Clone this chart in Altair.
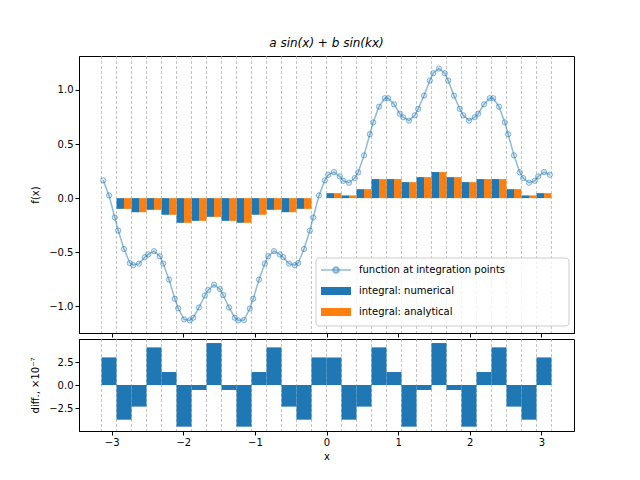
import numpy as np
import pandas as pd
import altair as alt

# 30 bins on [-pi, pi], 3 Gauss points per bin
n_bins = 30
gauss_offsets = [0.1127, 0.5, 0.8873]

# function values at the integration points, bin by bin
f_values = [
    0.164, 0.025, -0.179,
    -0.30, -0.47, -0.60,
    -0.62, -0.605, -0.546,
    -0.52, -0.49, -0.537,
    -0.605, -0.753, -0.93,
    -1.018, -1.12, -1.13,
    -1.105, -1.01, -0.90,
    -0.85, -0.80, -0.84,
    -0.895, -1.01, -1.105,
    -1.13, -1.127, -1.02,
    -0.93, -0.753, -0.605,
    -0.537, -0.49, -0.52,
    -0.546, -0.605, -0.62,
    -0.60, -0.47, -0.30,
    -0.179, 0.025, 0.164,
    0.216, 0.241, 0.20,
    0.16, 0.142, 0.185,
    0.238, 0.395, 0.59,
    0.70, 0.845, 0.923,
    0.923, 0.867, 0.78,
    0.747, 0.716, 0.765,
    0.824, 0.947, 1.086,
    1.154, 1.197, 1.154,
    1.086, 0.947, 0.824,
    0.765, 0.716, 0.747,
    0.78, 0.867, 0.923,
    0.923, 0.845, 0.70,
    0.59, 0.395, 0.238,
    0.185, 0.142, 0.16,
    0.20, 0.241, 0.216,
]

integral_numerical = [
    0.0, -0.099, -0.13, -0.108, -0.154, -0.228, -0.21, -0.173, -0.21, -0.228,
    -0.154, -0.108, -0.13, -0.099, 0.0, 0.046, 0.025, 0.083, 0.176, 0.176,
    0.148, 0.194, 0.241, 0.194, 0.148, 0.176, 0.176, 0.083, 0.025, 0.046,
]
integral_analytical = list(integral_numerical)

# numerical - analytical, in units of 1e-7
diff_values = [
    3.0, -3.77, -2.35, 4.09, 1.41, -4.53, -0.54, 4.56, -0.54, -4.53,
    1.41, 4.09, -2.35, -3.77, 3.0, 3.0, -3.77, -2.35, 4.09, 1.41,
    -4.53, -0.54, 4.56, -0.54, -4.53, 1.41, 4.09, -2.35, -3.77, 3.0,
]

edges = np.linspace(-np.pi, np.pi, n_bins + 1)
width = edges[1] - edges[0]
x_points = [edges[i] + width * o for i in range(n_bins) for o in gauss_offsets]

points = pd.DataFrame({"x": x_points, "f": f_values})
bins = pd.DataFrame({
    "lo": edges[:-1],
    "mid": edges[:-1] + width / 2,
    "hi": edges[1:],
    "num": integral_numerical,
    "ana": integral_analytical,
    "diff": diff_values,
})
grid = pd.DataFrame({"x": edges})

BLUE = "#1f77b4"
ORANGE = "#ff7f0e"
xdom = [-3.456, 3.456]
W, H1, H2 = 495, 277, 92

xscale = alt.Scale(domain=xdom, nice=False, zero=False)
ticks_x = [-3, -2, -1, 0, 1, 2, 3]

grid_top = alt.Chart(grid).mark_rule(
    color="#aaaaaa", strokeDash=[3, 2], strokeWidth=0.7
).encode(x=alt.X("x:Q", scale=xscale, axis=alt.Axis(labels=False, title=None, values=ticks_x)))

line = alt.Chart(points).mark_line(color=BLUE, opacity=0.5, strokeWidth=1.5).encode(
    x=alt.X("x:Q", scale=xscale),
    y=alt.Y("f:Q", scale=alt.Scale(domain=[-1.246, 1.313], nice=False),
            axis=alt.Axis(title="f(x)", values=[-1, -0.5, 0, 0.5, 1], format=".1f")),
)
dots = alt.Chart(points).mark_point(
    shape="circle", size=28, stroke=BLUE, strokeOpacity=0.5, strokeWidth=1,
    fill=BLUE, fillOpacity=0.15
).encode(x=alt.X("x:Q", scale=xscale), y="f:Q")

bar_num = alt.Chart(bins).mark_bar(color=BLUE).encode(
    x="lo:Q", x2="mid:Q", y="num:Q", y2=alt.datum(0)
)
bar_ana = alt.Chart(bins).mark_bar(color=ORANGE).encode(
    x="mid:Q", x2="hi:Q", y="ana:Q", y2=alt.datum(0)
)

# legend box in the lower right of the top panel
one = pd.DataFrame({"a": [0]})
legend_box = alt.Chart(one).mark_rect(
    fill="white", fillOpacity=0.8, stroke="#cccccc", cornerRadius=3
).encode(x=alt.value(237), x2=alt.value(490), y=alt.value(202), y2=alt.value(270))
legend_labels = ["function at integration points", "integral: numerical", "integral: analytical"]
legend_rows = [214, 235, 256]
leg_text = [
    alt.Chart(pd.DataFrame({"t": [t]})).mark_text(
        align="left", baseline="middle", fontSize=10, font="DejaVu Sans"
    ).encode(text="t:N", x=alt.value(280), y=alt.value(r))
    for t, r in zip(legend_labels, legend_rows)
]
leg_line = alt.Chart(one).mark_rule(
    color=BLUE, opacity=0.5, strokeWidth=1.5
).encode(x=alt.value(242), x2=alt.value(272), y=alt.value(214))
leg_dot = alt.Chart(one).mark_point(
    shape="circle", size=28, stroke=BLUE, strokeOpacity=0.5, fill=BLUE, fillOpacity=0.15
).encode(x=alt.value(257), y=alt.value(214))
leg_num = alt.Chart(one).mark_rect(color=BLUE).encode(
    x=alt.value(242), x2=alt.value(272), y=alt.value(231), y2=alt.value(239))
leg_ana = alt.Chart(one).mark_rect(color=ORANGE).encode(
    x=alt.value(242), x2=alt.value(272), y=alt.value(252), y2=alt.value(260))

top = alt.layer(
    grid_top, bar_num, bar_ana, line, dots,
    legend_box, leg_line, leg_dot, leg_num, leg_ana, *leg_text
).properties(
    width=W, height=H1,
    title=alt.TitleParams("a sin(x) + b sin(kx)", fontSize=12, font="DejaVu Sans",
                          fontStyle="italic", fontWeight="normal", offset=6),
)

grid_bot = alt.Chart(grid).mark_rule(
    color="#aaaaaa", strokeDash=[3, 2], strokeWidth=0.7
).encode(x=alt.X("x:Q", scale=xscale,
                 axis=alt.Axis(title="x", values=ticks_x, format="d")))
diff_bars = alt.Chart(bins).mark_bar(color=BLUE).encode(
    x=alt.X("lo:Q", scale=xscale),
    x2="hi:Q",
    y=alt.Y("diff:Q", scale=alt.Scale(domain=[-5, 5], nice=False),
            axis=alt.Axis(title="diff., ×10⁻⁷", values=[-2.5, 0, 2.5], format=".1f")),
    y2=alt.datum(0),
)
bottom = alt.layer(grid_bot, diff_bars).properties(width=W, height=H2)

chart = alt.vconcat(top, bottom, spacing=0).properties(
    padding={"left": 22, "top": 28, "right": 5, "bottom": 5},
).configure_view(
    stroke="black", strokeWidth=1
).configure_axis(
    grid=False, domainColor="black", tickColor="black", labelColor="black",
    labelFont="DejaVu Sans", titleFont="DejaVu Sans", labelFontSize=10,
    titleFontSize=10, titleFontWeight="normal", tickSize=4, labelPadding=2,
).configure_axisY(titlePadding=8)

chart.save("out.html", embed_options={"renderer": "svg", "actions": False})
